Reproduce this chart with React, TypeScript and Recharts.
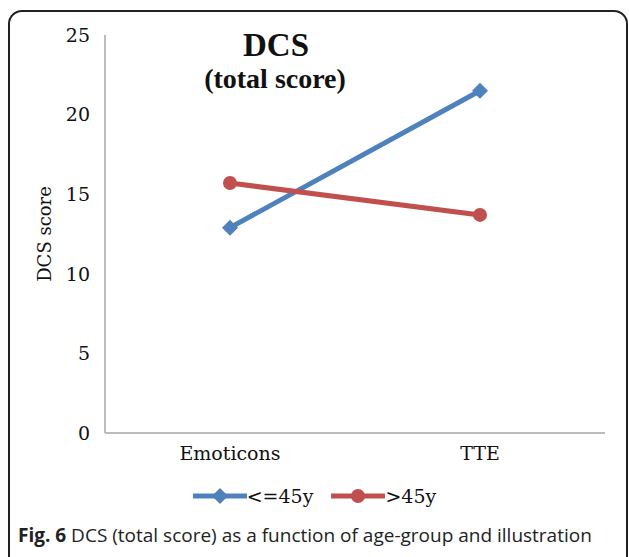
import { LineChart, Line, XAxis, YAxis } from "recharts";

const categories = ["Emoticons", "TTE"];
const youngScores = [12.9, 21.5];
const olderScores = [15.7, 13.7];
const yTicks = [0, 5, 10, 15, 20, 25];

const series = [
  { key: "young", name: "<=45y", color: "#4F81BD", marker: "diamond" },
  { key: "older", name: ">45y", color: "#C0504D", marker: "circle" },
];

const data = categories.map((label, i) => ({
  label,
  young: youngScores[i],
  older: olderScores[i],
}));

const serif = "'DejaVu Serif', serif";

function Diamond(props: any) {
  const { cx, cy, fill } = props;
  if (cx == null || cy == null) return null;
  const s = 8;
  return <path d={`M${cx},${cy - s}L${cx + s},${cy}L${cx},${cy + s}L${cx - s},${cy}Z`} fill={fill} />;
}

function Circle(props: any) {
  const { cx, cy, fill } = props;
  if (cx == null || cy == null) return null;
  return <circle cx={cx} cy={cy} r={7} fill={fill} />;
}

export default function App() {
  return (
    <div style={{ position: "fixed", left: 0, top: 0, width: 629, height: 557, background: "#fff", overflow: "hidden" }}>
      {/* rounded frame */}
      <div
        style={{
          position: "absolute",
          left: 8,
          top: 10,
          width: 616,
          height: 580,
          border: "2px solid #222",
          borderRadius: 14,
        }}
      />
      <div style={{ position: "absolute", left: 0, top: 0 }}>
        <LineChart width={629} height={470} data={data} margin={{ top: 35, right: 24, left: 0, bottom: 0 }}>
          <XAxis
            dataKey="label"
            padding={{ left: 125, right: 125 }}
            axisLine={{ stroke: "#a6a6a6", strokeWidth: 1.5 }}
            tickLine={false}
            tickSize={0}
            tickMargin={14}
            height={37}
            tick={{ fill: "#111", fontSize: 19, fontFamily: serif }}
          />
          <YAxis
            domain={[0, 25]}
            ticks={yTicks}
            width={105}
            axisLine={{ stroke: "#a6a6a6", strokeWidth: 1.5 }}
            tickLine={false}
            tickSize={0}
            tickMargin={15}
            tick={{ fill: "#111", fontSize: 19, fontFamily: serif }}
            label={{
              value: "DCS score",
              angle: -90,
              position: "insideLeft",
              offset: 45,
              style: { fill: "#111", fontSize: 18, fontFamily: serif, textAnchor: "middle" },
            }}
          />
          <Line
            dataKey="young"
            name="<=45y"
            stroke="#4F81BD"
            strokeWidth={5}
            dot={<Diamond fill="#4F81BD" />}
            activeDot={false}
            isAnimationActive={false}
          />
          <Line
            dataKey="older"
            name=">45y"
            stroke="#C0504D"
            strokeWidth={5}
            dot={<Circle fill="#C0504D" />}
            activeDot={false}
            isAnimationActive={false}
          />
          <text x={276} y={56} textAnchor="middle" style={{ fontFamily: "'Liberation Serif', serif", fontWeight: 700, fontSize: 33, fill: "#111" }}>
            DCS
          </text>
          <text x={275} y={88} textAnchor="middle" style={{ fontFamily: "'Liberation Serif', serif", fontWeight: 700, fontSize: 28, fill: "#111" }}>
            (total score)
          </text>
        </LineChart>
      </div>
      {/* legend */}
      <div
        style={{
          position: "absolute",
          left: 0,
          top: 484,
          width: 629,
          display: "flex",
          justifyContent: "center",
          gap: 18,
          fontFamily: serif,
          fontSize: 19,
          color: "#111",
        }}
      >
        {series.map((s) => (
          <div key={s.key} style={{ display: "flex", alignItems: "center" }}>
            <svg width={54} height={24}>
              <line x1={0} y1={12} x2={54} y2={12} stroke={s.color} strokeWidth={5} />
              {s.marker === "diamond" ? (
                <path d="M27,4L35,12L27,20L19,12Z" fill={s.color} />
              ) : (
                <circle cx={27} cy={12} r={7} fill={s.color} />
              )}
            </svg>
            <span>{s.name}</span>
          </div>
        ))}
      </div>
      {/* caption */}
      <div
        style={{
          position: "absolute",
          left: 18,
          top: 522,
          fontFamily: "'Open Sans', sans-serif",
          fontSize: 19,
          color: "#222",
          whiteSpace: "nowrap",
        }}
      >
        <b>Fig. 6</b> DCS (total score) as a function of age-group and illustration
      </div>
    </div>
  );
}
